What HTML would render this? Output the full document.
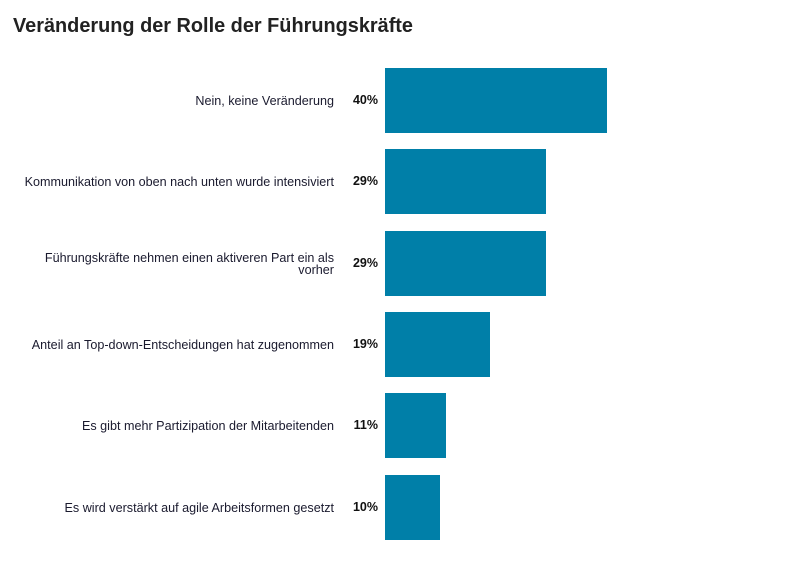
<!DOCTYPE html>
<html><head><meta charset="utf-8"><style>body{margin:0;background:#fff;}svg{display:block}</style></head><body>
<svg width="800" height="581" xmlns="http://www.w3.org/2000/svg" font-family="Liberation Sans, sans-serif">
<text x="13" y="32" font-size="20" font-weight="bold" fill="#222" textLength="400" lengthAdjust="spacingAndGlyphs">Veränderung der Rolle der Führungskräfte</text>
<g fill="#007fa8">
<rect x="385" y="68" width="222" height="65"/>
<rect x="385" y="149" width="161" height="65"/>
<rect x="385" y="231" width="161" height="65"/>
<rect x="385" y="312" width="105" height="65"/>
<rect x="385" y="393" width="61" height="65"/>
<rect x="385" y="475" width="55" height="65"/>
</g>
<g font-size="12.6" fill="#1a1a2e" text-anchor="end">
<text x="334" y="105">Nein, keine Veränderung</text>
<text x="334" y="186">Kommunikation von oben nach unten wurde intensiviert</text>
<text x="334" y="262">Führungskräfte nehmen einen aktiveren Part ein als</text>
<text x="334" y="274">vorher</text>
<text x="334" y="349">Anteil an Top-down-Entscheidungen hat zugenommen</text>
<text x="334" y="430">Es gibt mehr Partizipation der Mitarbeitenden</text>
<text x="334" y="512">Es wird verstärkt auf agile Arbeitsformen gesetzt</text>
</g>
<g font-size="12.5" font-weight="bold" fill="#111" text-anchor="end">
<text x="378" y="104">40%</text>
<text x="378" y="185">29%</text>
<text x="378" y="267">29%</text>
<text x="378" y="348">19%</text>
<text x="378" y="429">11%</text>
<text x="378" y="511">10%</text>
</g>
</svg>
</body></html>
